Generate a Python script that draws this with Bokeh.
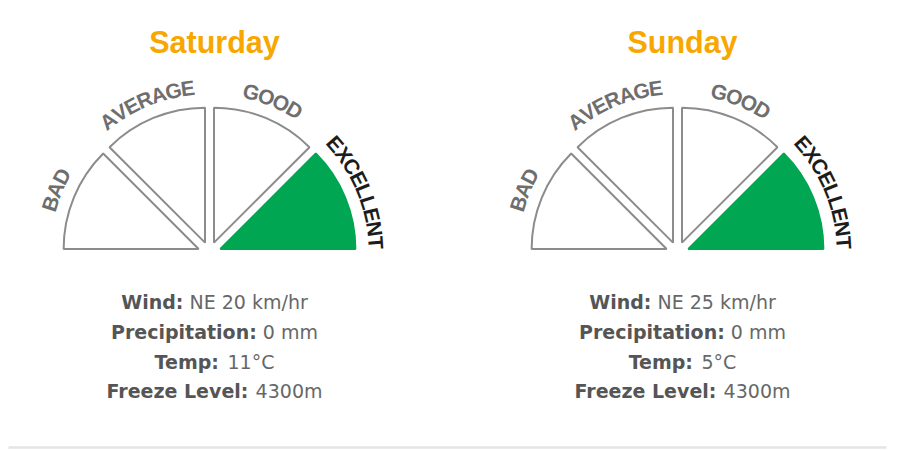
import math

from bokeh.core.properties import value
from bokeh.embed import file_html
from bokeh.models import ColumnDataSource, Range1d
from bokeh.plotting import figure
from bokeh.resources import INLINE

# ---- data -------------------------------------------------------------
days = ["Saturday", "Sunday"]
categories = ["BAD", "AVERAGE", "GOOD", "EXCELLENT"]
ratings = ["EXCELLENT", "EXCELLENT"]
wind_dir = ["NE", "NE"]
wind_kmh = [20, 25]
precip_mm = [0, 0]
temp_c = [11, 5]
freeze_m = [4300, 4300]

# ---- layout / style ---------------------------------------------------
W, H = 899, 450
col_x = [214, 682]          # column centres
gauge_shift = -5            # gauge centre relative to column centre
gauge_y = 197               # centre of the half circle (y up)
R_WEDGE = 135               # radius of each exploded sector
GAP = 4.5                   # half of the gap between sectors
LABEL_SIZE = 21
LABEL_R = 161               # baseline radius of curved labels
TRACKING = 0.94             # letters of the curved labels sit a little tight
DROP = 0.28                 # rendered baseline sits this much (em) below anchor

ORANGE = "#f7a700"
GREEN = "#00a651"
OUTLINE = "#8c8c8c"
LABEL_GREY = "#6e6e6e"
LABEL_ON = "#1c1c1c"

# advance widths (em) used to lay out text
ARIAL_BOLD = {"A": .722, "B": .722, "C": .722, "D": .722, "E": .667, "G": .778,
              "L": .611, "N": .722, "O": .778, "R": .722, "T": .611, "V": .667,
              "X": .667}
DV_BOLD = {" ": .348, ":": .400, "C": .733, "F": .683, "L": .637, "P": .733,
           "T": .682, "W": 1.103, "a": .675, "c": .593, "d": .716, "e": .678,
           "i": .343, "l": .343, "m": 1.042, "n": .712, "o": .687, "p": .716,
           "r": .493, "t": .478, "v": .652, "z": .582}
DV_REG = {" ": .318, "N": .748, "E": .632, "C": .698, "k": .579, "m": .974,
          "/": .337, "h": .634, "r": .411, "°": .500}
for d in "0123456789":
    DV_REG[d] = .636


def text_width(s, table, size):
    return sum(table.get(ch, .6) for ch in s) * size


p = figure(width=W, height=H, x_range=Range1d(0, W), y_range=Range1d(0, H),
           output_backend="svg", toolbar_location=None, min_border=0,
           x_axis_location=None, y_axis_location=None)
p.grid.visible = False
p.outline_line_color = None
p.background_fill_color = "white"
p.border_fill_color = "white"

n = len(categories)
step = math.pi / n
half = step / 2
apex_off = GAP / math.sin(half)

wedge = dict(x=[], y=[], start=[], end=[], fill=[], line=[])
letters = dict(x=[], y=[], text=[], angle=[], color=[])

for d, day in enumerate(days):
    cx = col_x[d] + gauge_shift
    cy = gauge_y
    for i, cat in enumerate(categories):
        a0 = math.pi - (i + 1) * step
        a1 = math.pi - i * step
        mid = (a0 + a1) / 2
        on = cat == ratings[d]
        wedge["x"].append(cx + apex_off * math.cos(mid))
        wedge["y"].append(cy + apex_off * math.sin(mid))
        wedge["start"].append(a0)
        wedge["end"].append(a1)
        wedge["fill"].append(GREEN if on else "white")
        wedge["line"].append(GREEN if on else OUTLINE)

        # curved label, letters laid clockwise along the arc
        adv = [ARIAL_BOLD.get(ch, .7) * LABEL_SIZE * TRACKING for ch in cat]
        total = sum(adv)
        pos = -total / 2
        r_anchor = LABEL_R + DROP * LABEL_SIZE
        for ch, w in zip(cat, adv):
            s = pos + w / 2
            ang = mid - s / LABEL_R
            letters["x"].append(cx + r_anchor * math.cos(ang))
            letters["y"].append(cy + r_anchor * math.sin(ang))
            letters["text"].append(ch)
            letters["angle"].append(ang - math.pi / 2)
            letters["color"].append(LABEL_ON if on else LABEL_GREY)
            pos += w

p.wedge(x="x", y="y", radius=R_WEDGE, start_angle="start", end_angle="end",
        fill_color="fill", line_color="line", line_width=2,
        source=ColumnDataSource(wedge))

p.text(x="x", y="y", text="text", angle="angle", text_color="color",
       text_font=value("Liberation Sans"), text_font_style="bold",
       text_font_size=value(f"{LABEL_SIZE}px"), text_align="center",
       text_baseline="alphabetic", source=ColumnDataSource(letters))

# day titles
TITLE_SIZE = 30.5
p.text(x=col_x, y=[H - 50 + DROP * TITLE_SIZE] * len(days), text=days,
       text_color=ORANGE, text_font=value("Liberation Sans"),
       text_font_style="bold", text_font_size=value(f"{TITLE_SIZE}px"),
       text_align="center", text_baseline="alphabetic")

# weather details: bold caption followed by a regular value
INFO_SIZE = 19
info_base = [307, 337, 367, 396]
bold = dict(x=[], y=[], text=[])
reg = dict(x=[], y=[], text=[])
for d in range(len(days)):
    rows = [("Wind:", f"{wind_dir[d]} {wind_kmh[d]} km/hr"),
            ("Precipitation:", f"{precip_mm[d]} mm"),
            ("Temp:", f"{temp_c[d]}°C"),
            ("Freeze Level:", f"{freeze_m[d]}m")]
    for (cap, val), yb in zip(rows, info_base):
        wc = text_width(cap, DV_BOLD, INFO_SIZE)
        ws = DV_REG[" "] * INFO_SIZE
        wv = text_width(val, DV_REG, INFO_SIZE)
        x0 = col_x[d] - (wc + ws + wv) / 2
        yy = H - yb + DROP * INFO_SIZE
        bold["x"].append(x0)
        bold["y"].append(yy)
        bold["text"].append(cap)
        reg["x"].append(x0 + wc + ws)
        reg["y"].append(yy)
        reg["text"].append(val)

p.text(x="x", y="y", text="text", text_color="#555555",
       text_font=value("DejaVu Sans"), text_font_style="bold",
       text_font_size=value(f"{INFO_SIZE}px"), text_align="left",
       text_baseline="alphabetic", source=ColumnDataSource(bold))
p.text(x="x", y="y", text="text", text_color="#676767",
       text_font=value("DejaVu Sans"),
       text_font_size=value(f"{INFO_SIZE}px"), text_align="left",
       text_baseline="alphabetic", source=ColumnDataSource(reg))

# separator rule at the bottom
p.segment(x0=[8], y0=[H - 447], x1=[886], y1=[H - 447],
          line_color="#e4e4e4", line_width=2.5)

open("out.html", "w").write(file_html(p, INLINE))
